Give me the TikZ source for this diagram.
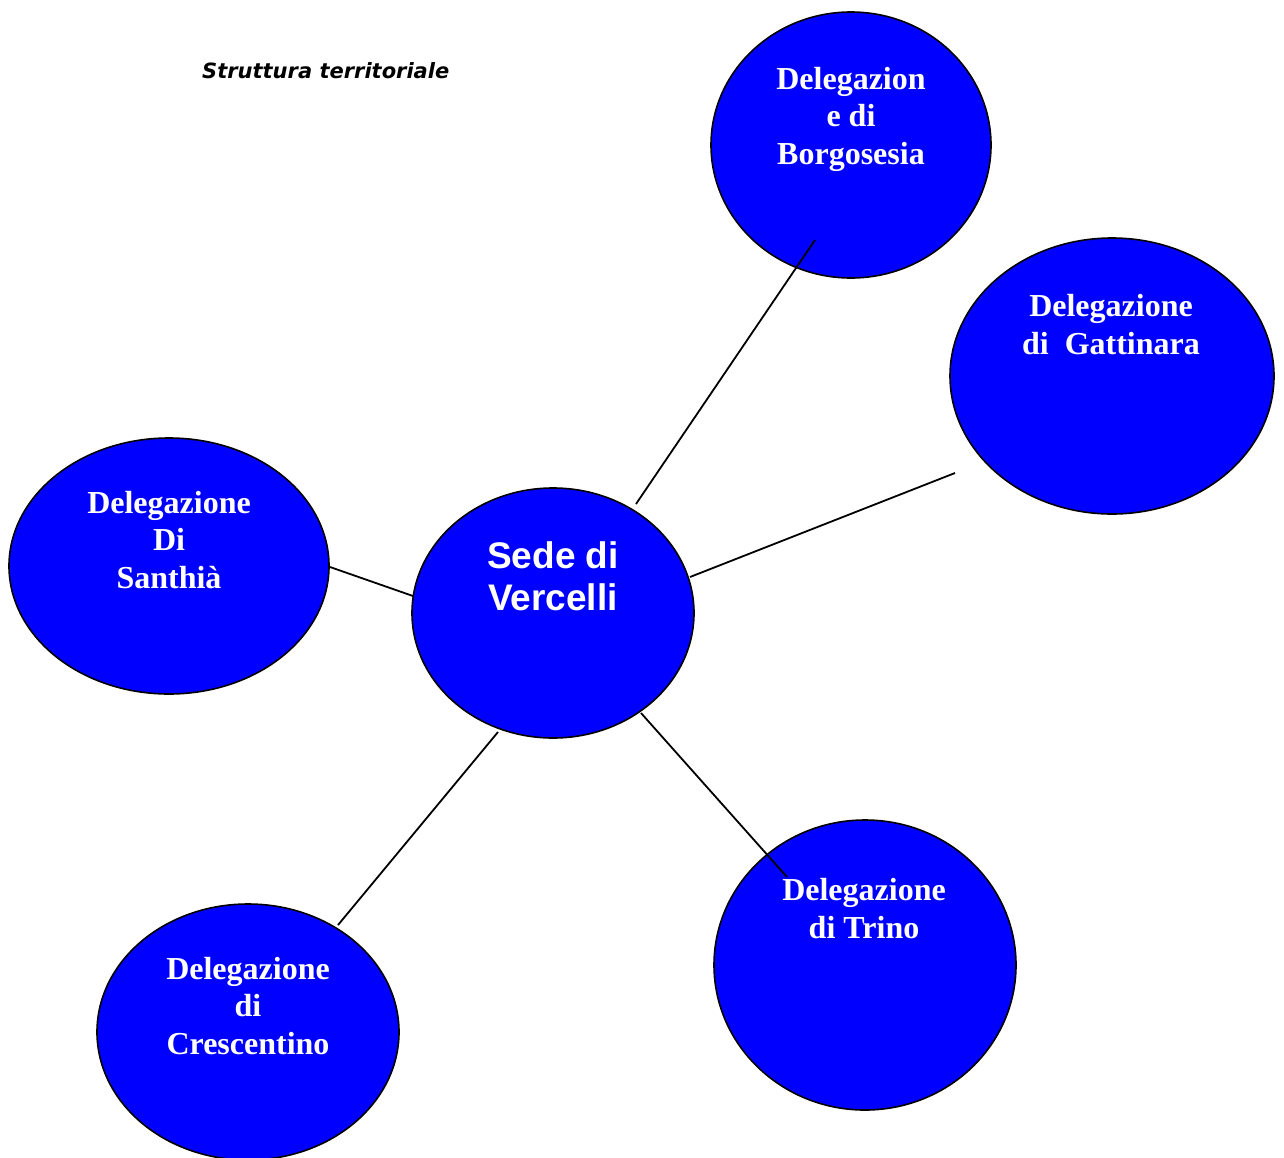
\documentclass[tikz,border=0pt]{standalone}
\usepackage{fontspec}
\setmainfont{Liberation Serif}
\newfontfamily\arialfont{Liberation Sans}
\newfontfamily\verdanafont{DejaVu Sans}
\usetikzlibrary{shapes.geometric}
\begin{document}
\begin{tikzpicture}[x=1pt,y=-1pt,
  sede/.style={ellipse,draw=black,line width=1.6pt,fill=blueC,inner sep=0pt},
  lab/.style={text=white,align=center,inner sep=0pt,anchor=base,font=\fontsize{32}{37.5}\selectfont\bfseries},
  conn/.style={draw=black,line width=1.8pt}]
\definecolor{blueC}{RGB}{0,0,255}
\useasboundingbox (0,0) rectangle (1284,1157);
\fill[white] (0,0) rectangle (1284,1157);
% ellipses
\node[sede,minimum width=280pt,minimum height=266pt] (borgo) at (851,145) {};
\node[sede,minimum width=324pt,minimum height=276pt] (gatti) at (1112,376) {};
\node[sede,minimum width=320pt,minimum height=256pt] (santh) at (169,566) {};
\node[sede,minimum width=282pt,minimum height=250pt] (verc) at (553,613) {};
\node[sede,minimum width=302pt,minimum height=256pt] (cresc) at (248,1032) {};
\node[sede,minimum width=302pt,minimum height=290pt] (trino) at (865,965) {};
% connector ends
\coordinate (v1) at (636,504); \coordinate (b1) at (815,240);
\coordinate (v2) at (690,577); \coordinate (g1) at (955,473);
\coordinate (v3) at (413,596); \coordinate (s1) at (330,567);
\coordinate (v4) at (498,732); \coordinate (c1) at (338,925);
\coordinate (v5) at (641,713); \coordinate (t1) at (787,877);
\draw[conn] (v1) -- (b1);
\draw[conn] (v2) -- (g1);
\draw[conn] (v3) -- (s1);
\draw[conn] (v4) -- (c1);
\draw[conn] (v5) -- (t1);
% labels (anchor = baseline of last line)
\node[lab] (lborgo) at (851,164) {Delegazion\\e di\\Borgosesia};
\node[lab] (lgatti) at (1111,354) {Delegazione\\di~~Gattinara};
\node[lab] (lsanth) at (169,588) {Delegazione\\Di\\Santhià};
\node[lab] (lcresc) at (248,1054) {Delegazione\\di\\Crescentino};
\node[lab] (ltrino) at (864,938) {Delegazione\\di Trino};
\node[lab,font=\fontsize{37}{42}\selectfont\arialfont\bfseries] (lverc) at (553,610) {Sede di\\Vercelli};
\node[anchor=base west,inner sep=0pt,font=\fontsize{21}{25}\selectfont\verdanafont\bfseries\itshape] (title) at (202,78) {Struttura territoriale};
\end{tikzpicture}
\end{document}
